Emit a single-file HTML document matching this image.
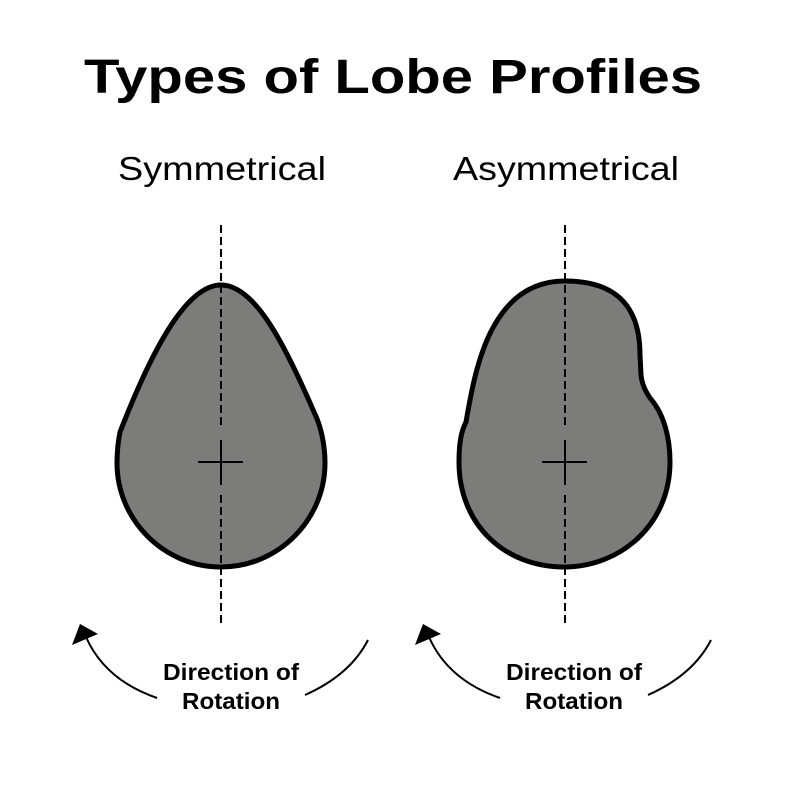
<!DOCTYPE html>
<html><head><style>body{margin:0;background:#fff}svg{display:block}</style></head>
<body>
<svg width="800" height="800" viewBox="0 0 800 800" xmlns="http://www.w3.org/2000/svg" font-family="'Liberation Sans', 'DejaVu Sans', sans-serif">
<rect width="800" height="800" fill="#fff"/>
<text x="393" y="93" font-size="48" font-weight="bold" text-anchor="middle" textLength="618" lengthAdjust="spacingAndGlyphs">Types of Lobe Profiles</text>
<text x="222" y="180" font-size="33" text-anchor="middle" textLength="208" lengthAdjust="spacingAndGlyphs">Symmetrical</text>
<text x="566" y="180" font-size="33" text-anchor="middle" textLength="226" lengthAdjust="spacingAndGlyphs">Asymmetrical</text>

<path d="M221,285 C255,285 285,345 314,412 C321,426 325,445 325,463 C325,520 278,567 221,567 C164,567 117,520 117,463 C117,452 118,442 120,432 C150,355 185,285 221,285 Z" fill="#7c7d7b" stroke="#000" stroke-width="5"/>
<path d="M565,281 C620,281 640,310 640,355 L641,375 C642,385 646,392 650,398 C665,415 670,440 670,462 C670,525 620,567 564,567 C505,567 459,525 459,462 C459,440 462,430 466,422 C475,370 490,281 565,281 Z" fill="#7c7d7b" stroke="#000" stroke-width="5"/>

<g stroke="#000" stroke-width="2" stroke-dasharray="8,4">
<line x1="221" y1="225" x2="221" y2="428"/>
<line x1="221" y1="495" x2="221" y2="624"/>
<line x1="565" y1="225" x2="565" y2="428"/>
<line x1="565" y1="495" x2="565" y2="624"/>
</g>
<g stroke="#000" stroke-width="2">
<line x1="198" y1="462" x2="243" y2="462"/><line x1="221" y1="440" x2="221" y2="485"/>
<line x1="542" y1="462" x2="587" y2="462"/><line x1="565" y1="440" x2="565" y2="485"/>
</g>

<g fill="none" stroke="#000" stroke-width="2">
<path d="M157,698 Q105,680 86,637"/>
<path d="M305,695 Q350,675 368,640"/>
<path d="M500,698 Q448,680 429,637"/>
<path d="M648,695 Q693,675 711,640"/>
</g>
<polygon points="72,645 80,624 98,634" fill="#000"/>
<polygon points="415,645 423,624 441,634" fill="#000"/>

<g font-size="23" font-weight="bold" text-anchor="middle">
<text x="231" y="680" textLength="136" lengthAdjust="spacingAndGlyphs">Direction of</text><text x="231" y="709" textLength="98" lengthAdjust="spacingAndGlyphs">Rotation</text>
<text x="574" y="680" textLength="136" lengthAdjust="spacingAndGlyphs">Direction of</text><text x="574" y="709" textLength="98" lengthAdjust="spacingAndGlyphs">Rotation</text>
</g>
</svg>
</body></html>
